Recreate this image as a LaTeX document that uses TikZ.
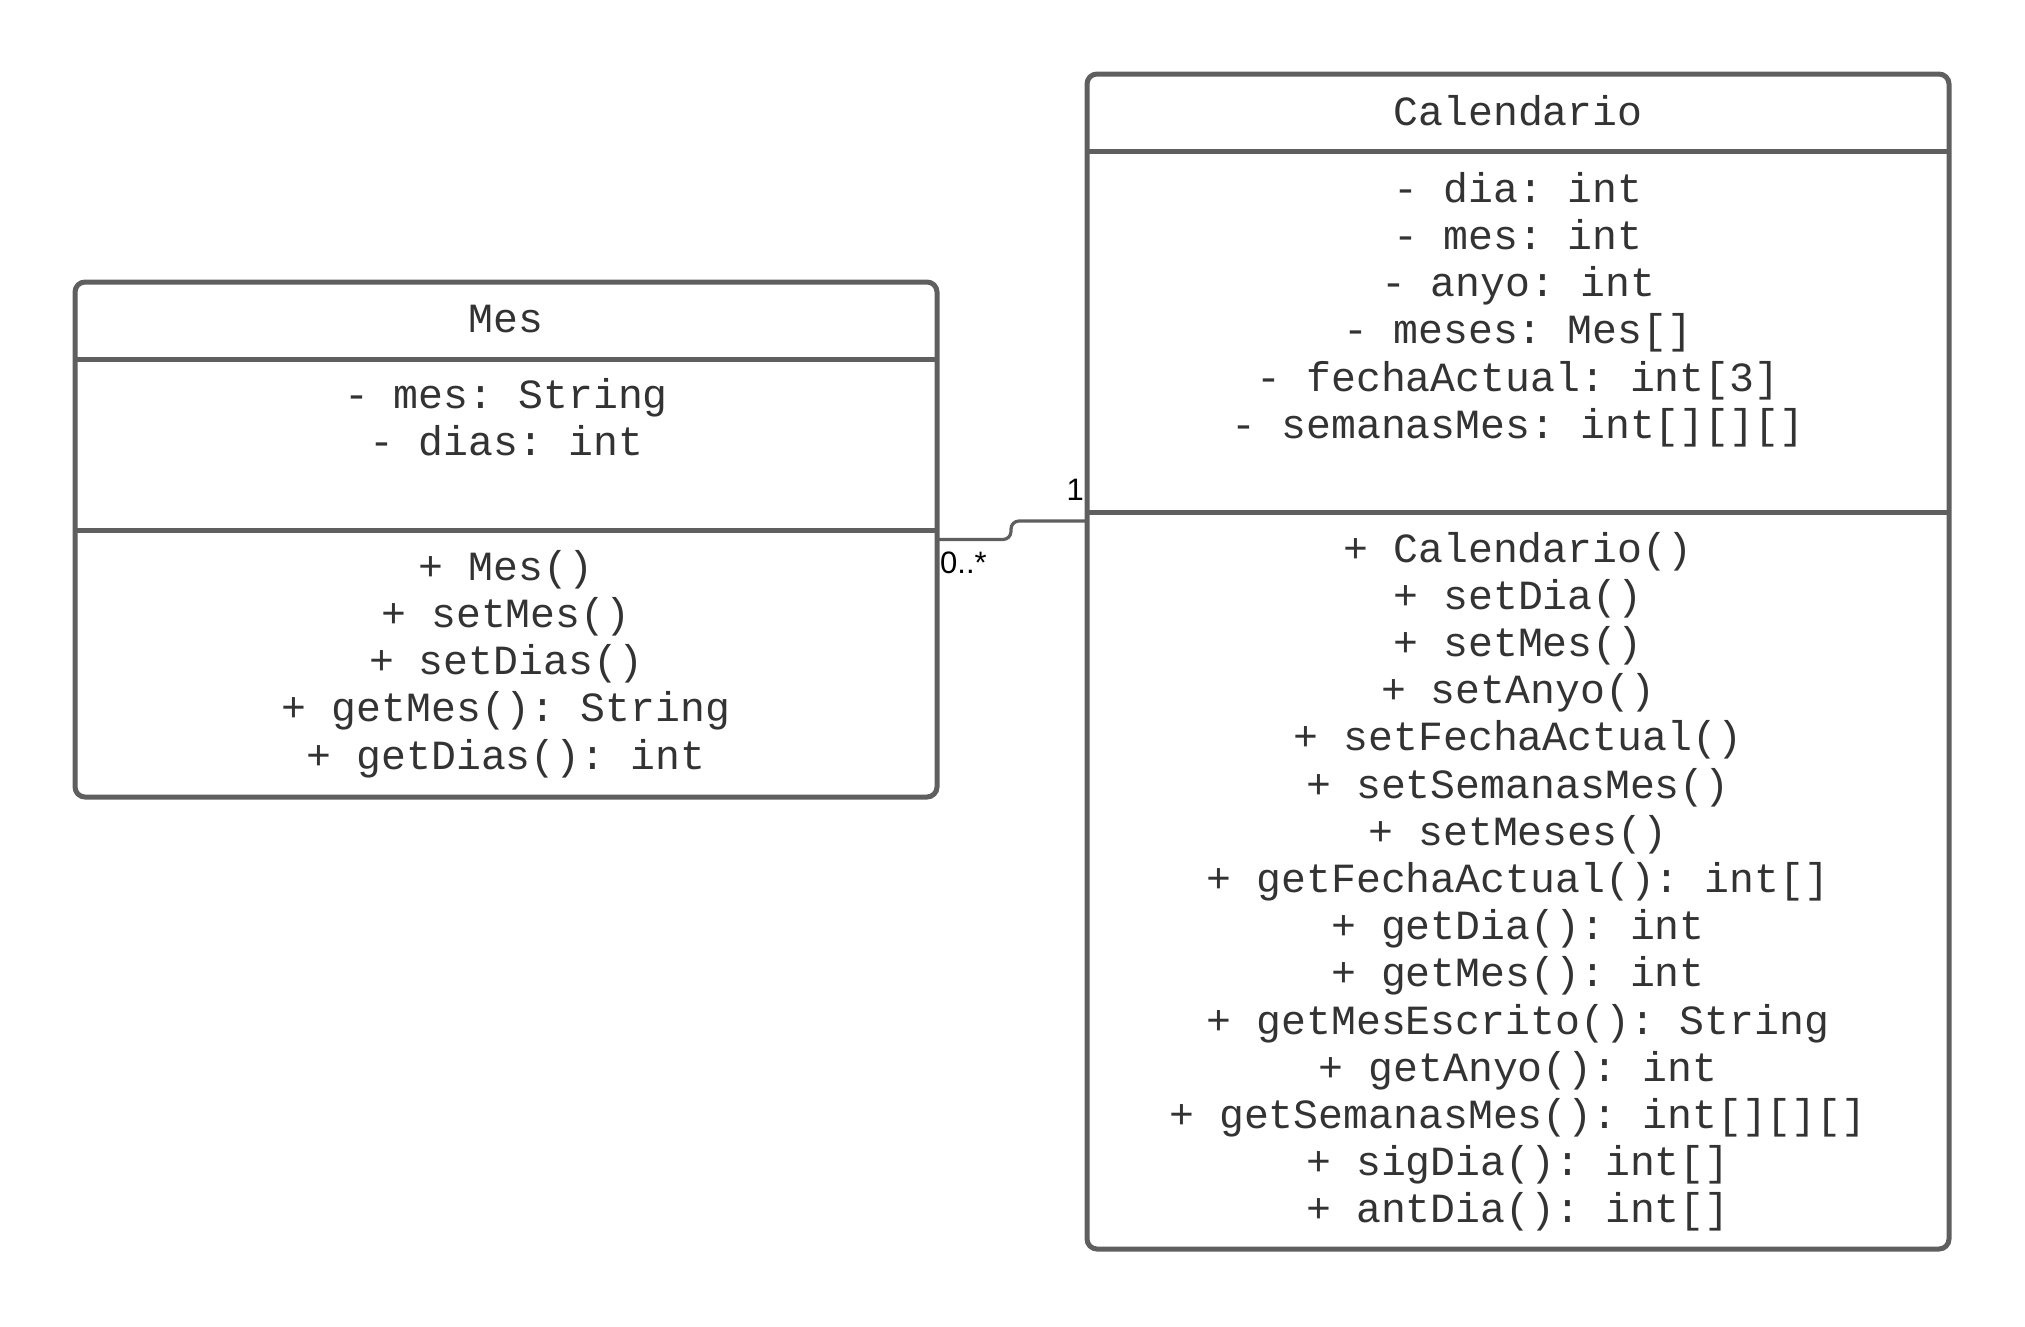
\documentclass[tikz,border=0pt]{standalone}
\usepackage{fontspec}
\setmainfont{Liberation Sans}
\setmonofont{Liberation Mono}
\definecolor{linegray}{HTML}{5F5F5F}
\definecolor{textgray}{HTML}{333333}
\begin{document}
\begin{tikzpicture}[x=1pt,y=-1pt,
  umlbox/.style={draw=linegray, line width=5pt, rounded corners=10pt, fill=white, inner sep=0pt, outer sep=0pt, anchor=north west},
  sepline/.style={draw=linegray, line width=5pt},
  umltext/.style={anchor=base, inner sep=0pt, text=textgray, font=\ttfamily\fontsize{41.5pt}{47.3pt}\selectfont},
  conn/.style={draw=linegray, line width=3.2pt},
  mult/.style={inner sep=0pt, text=black, font=\fontsize{31pt}{36pt}\selectfont}]
\useasboundingbox (0,0) rectangle (2025,1326);
% boxes
\node[umlbox, minimum width=862pt, minimum height=515pt] (mes) at (75,282) {};
\node[umlbox, minimum width=862pt, minimum height=1175pt] (cal) at (1087,74) {};
% compartment separators
\coordinate (mesh1) at (75,359);   \coordinate (mesh2) at (937,359);
\coordinate (mess1) at (75,530);   \coordinate (mess2) at (937,530);
\coordinate (calh1) at (1087,151); \coordinate (calh2) at (1949,151);
\coordinate (cals1) at (1087,512); \coordinate (cals2) at (1949,512);
\draw[sepline] (mesh1) -- (mesh2);
\draw[sepline] (mess1) -- (mess2);
\draw[sepline] (calh1) -- (calh2);
\draw[sepline] (cals1) -- (cals2);
% Mes texts
\node[umltext] (mestitle) at (506,332) {Mes};
\foreach \t [count=\i] in {- mes: String, - dias: int}
  \node[umltext] (mesattr\i) at (506,{408+(\i-1)*47.3}) {\t};
\foreach \t [count=\i] in {+ Mes(), + setMes(), + setDias(), + getMes(): String, + getDias(): int}
  \node[umltext] (mesop\i) at (506,{580+(\i-1)*47.3}) {\t};
% Calendario texts
\node[umltext] (caltitle) at (1518,125) {Calendario};
\foreach \t [count=\i] in {- dia: int, - mes: int, - anyo: int, - meses: Mes[], - fechaActual: int[3], - semanasMes: int[][][]}
  \node[umltext] (calattr\i) at (1518,{202+(\i-1)*47.3}) {\t};
\foreach \t [count=\i] in {+ Calendario(), + setDia(), + setMes(), + setAnyo(), + setFechaActual(), + setSemanasMes(), + setMeses(), + getFechaActual(): int[], + getDia(): int, + getMes(): int, + getMesEscrito(): String, + getAnyo(): int, + getSemanasMes(): int[][][], + sigDia(): int[], + antDia(): int[]}
  \node[umltext] (calop\i) at (1518,{562+(\i-1)*47.2}) {\t};
% association
\coordinate (calport) at ([yshift=140.5pt]cal.west);
\draw[conn, rounded corners=8pt] (mes.east) -- ++(74,0) |- (calport);
\node[mult, anchor=base east] (m1) at (1084,500) {1};
\node[mult, anchor=base west] (m2) at (940,573) {0..*};
\end{tikzpicture}
\end{document}
